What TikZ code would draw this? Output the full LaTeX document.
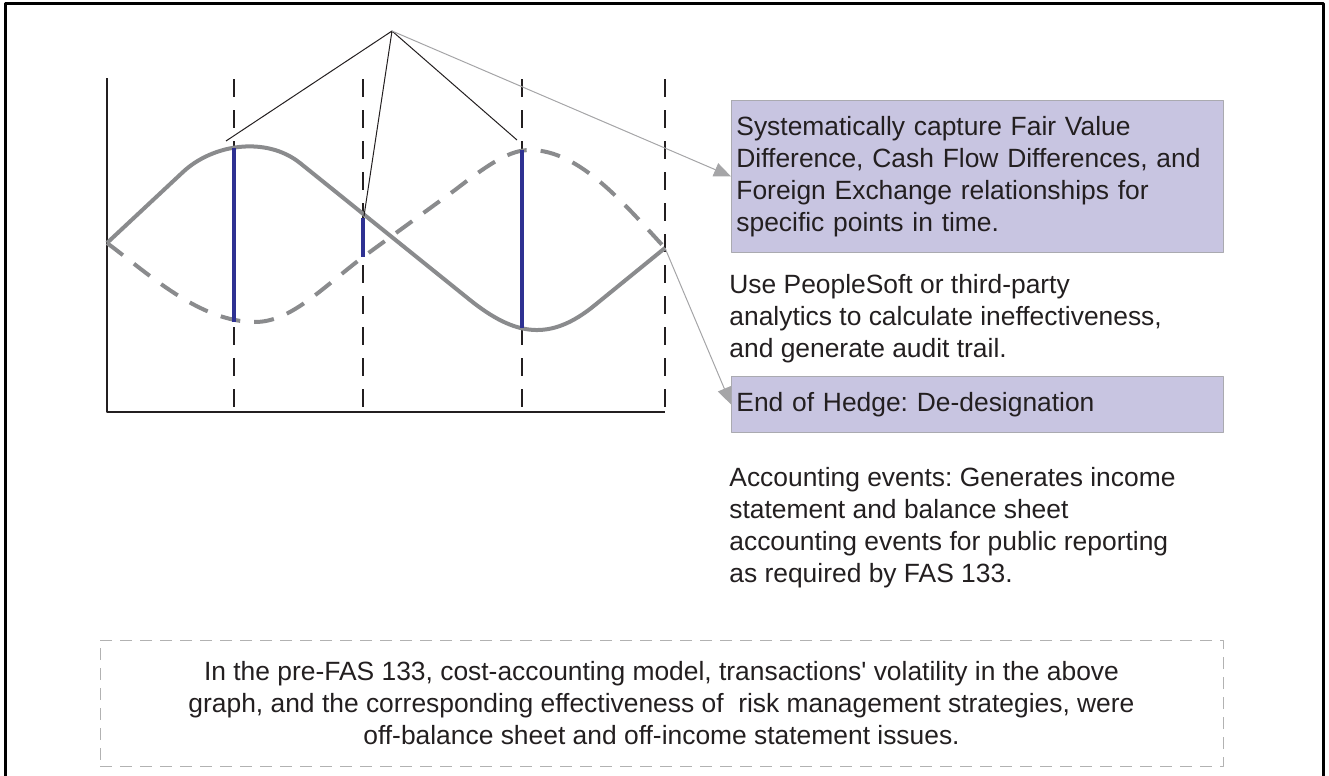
\documentclass[tikz,border=0pt]{standalone}
\usepackage{fontspec}
\setmainfont{Liberation Sans}
\usetikzlibrary{positioning, arrows.meta}
\frenchspacing

\definecolor{inkblack}{RGB}{35,31,32}
\definecolor{curvegray}{RGB}{138,139,141}
\definecolor{hedgeblue}{RGB}{46,49,146}
\definecolor{boxfill}{RGB}{200,197,225}
\definecolor{boxline}{RGB}{170,170,176}
\definecolor{pointgray}{RGB}{165,165,167}
\definecolor{notegray}{RGB}{178,178,178}

\begin{document}
\begin{tikzpicture}[x=0.5pt,y=-0.5pt,line join=round]

	\tikzstyle{every node}=[font=\fontsize{13.2}{16}\selectfont,text=inkblack]
	
	\tikzstyle{event box}=[draw=boxline,fill=boxfill,anchor=north west,inner xsep=2.5pt,inner ysep=0pt,text width=241pt,align=left]
	\tikzstyle{plain text}=[anchor=north west,inner sep=0pt,align=left]
	\tikzstyle{pointer}=[draw=pointgray,line width=0.5pt,-{Triangle[length=8.5pt,width=7pt]}]
	\tikzstyle{time mark}=[draw=inkblack,line width=0.7pt,dash pattern=on 9pt off 6.5pt]
	\tikzstyle{hedge curve}=[draw=curvegray,line width=2pt]
	\tikzstyle{spread}=[draw=hedgeblue,line width=2pt]
	
	\useasboundingbox (0,0) rectangle (1329,776);
	\draw[line width=1.5pt] (5,776) -- (5,3) -- (1323,3) -- (1323,776);
	
	% graph
	\foreach \x in {234,363,522,665}
		\draw[time mark] (\x,79) -- (\x,412);
	\draw[inkblack,line width=1pt] (107,78) -- (107,412) -- (665,412);
	
	\draw[hedge curve] (107,243) -- (183,172) .. controls (213,144) and (266,136) .. (300,163)
		-- (470,300) .. controls (515,336) and (550,342) .. (595,305) -- (665,248);
	\draw[hedge curve,dash pattern=on 10pt off 7pt] (107,243) .. controls (150,275) and (200,322) .. (255,322)
		.. controls (290,322) and (320,290) .. (363,257) -- (455,190)
		.. controls (490,163) and (510,150) .. (530,150) .. controls (580,150) and (625,205) .. (665,248);
	
	\draw[spread] (234,148) -- (234,322);
	\draw[spread] (363,218) -- (363,257);
	\draw[spread] (522,150) -- (522,328);
	
	\coordinate (A) at (392,31);
	\coordinate (L1) at (226,141);
	\coordinate (L2) at (364,216);
	\coordinate (L3) at (517,140);
	\coordinate (E) at (665,248);
	\draw[inkblack,line width=0.5pt] (L1) -- (A) -- (L3) (A) -- (L2);
	
	% texts
	\node[event box,minimum height=76pt] (T0) at (731,100) {Systematically capture Fair Value\\Difference, Cash Flow Differences, and\\Foreign Exchange relationships for\\specific points in time.};
	\node[plain text] (T1) at (729,274) {Use PeopleSoft or third-party\\analytics to calculate ineffectiveness,\\and generate audit trail.};
	\node[event box,minimum height=28pt] (T2) at (731,376) {End of Hedge: De-designation};
	\node[plain text] (T3) at (729,467) {Accounting events: Generates income\\statement and balance sheet\\accounting events for public reporting\\as required by FAS 133.};
	
	\node[draw=notegray,line width=0.5pt,dash pattern=on 6pt off 4pt,minimum width=561.5pt,minimum height=63pt,align=center] (Note) at (661.5,703)
		{In the pre-FAS 133, cost-accounting model, transactions\textquotesingle{} volatility in the above\\graph, and the corresponding effectiveness of~ risk management strategies, were\\off-balance sheet and off-income statement issues.};
	
	\path (A) edge[pointer] (T0.west)
		(E) edge[pointer] (T2.west);

\end{tikzpicture}
\end{document}
